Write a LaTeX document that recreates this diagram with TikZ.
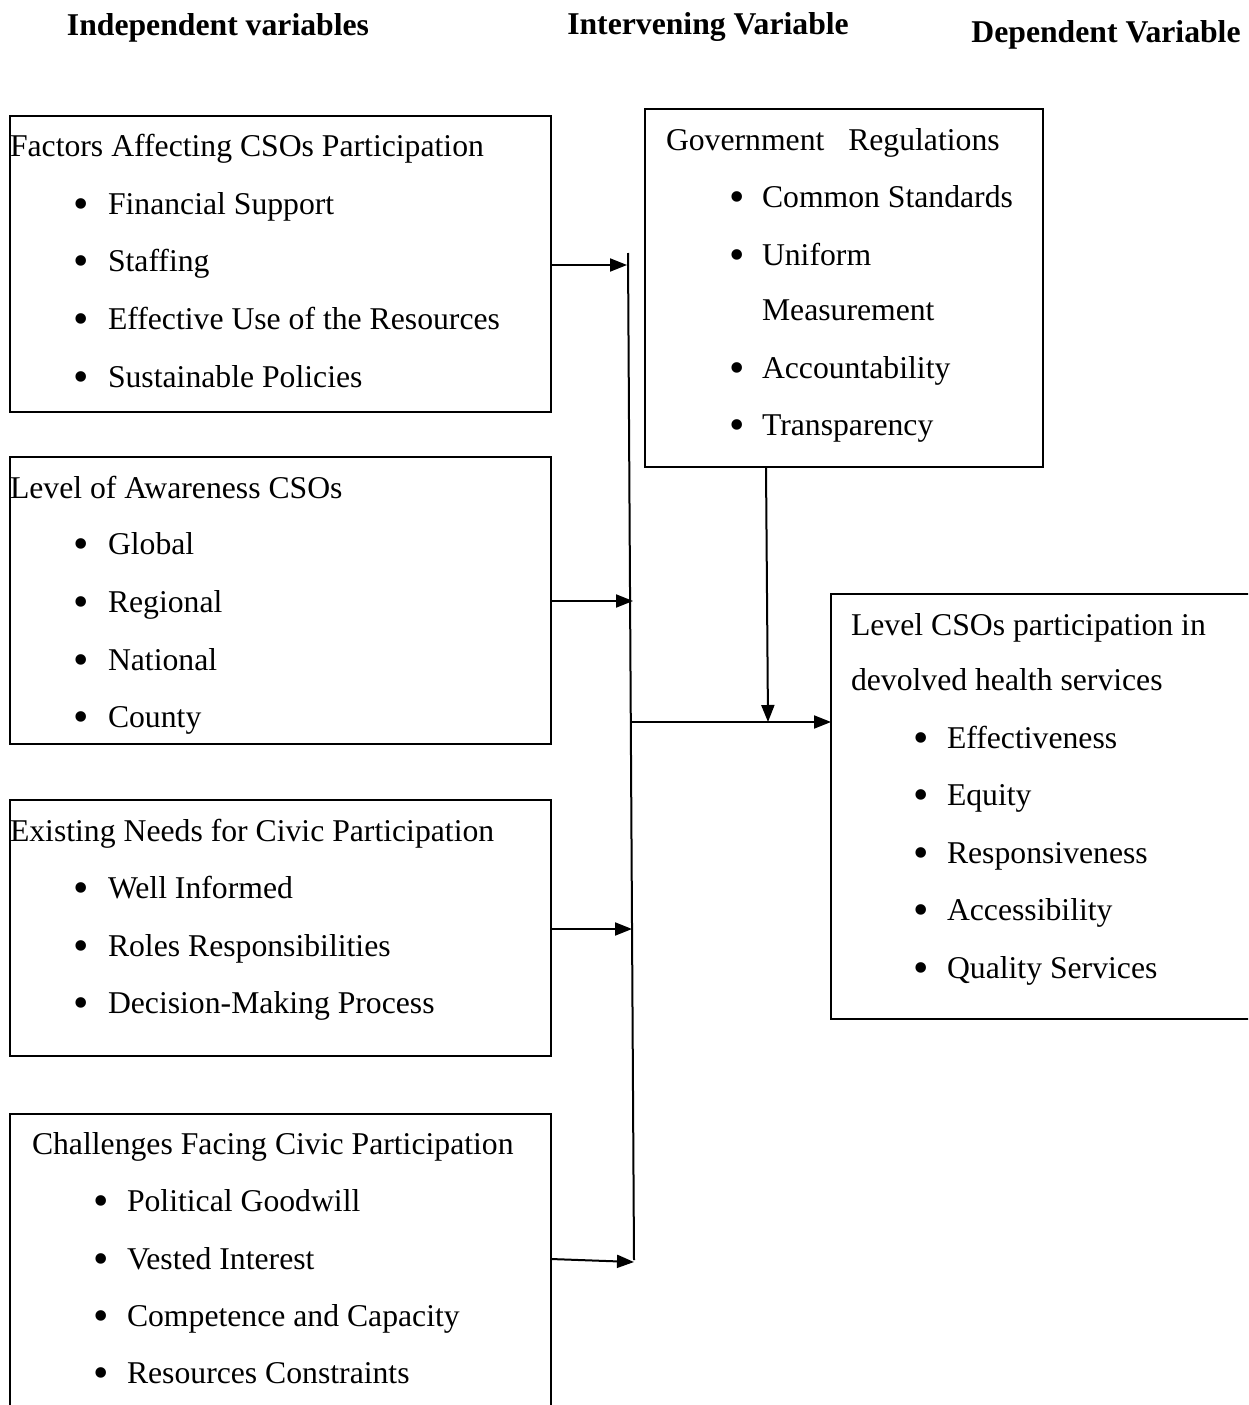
\documentclass[tikz,border=0pt]{standalone}
\usepackage{fontspec}
\setmainfont{Liberation Serif}
\usetikzlibrary{arrows.meta}
\begin{document}
\begin{tikzpicture}[x=1pt,y=-1pt,
  every node/.style={inner sep=0pt,outer sep=0pt},
  box/.style={draw,line width=2pt,rectangle,anchor=north west},
  txt/.style={anchor=base west,font=\fontsize{31.7}{38}\selectfont},
  bul/.style={anchor=base,font=\fontsize{44}{50}\selectfont,yshift=-4pt},
  head/.style={anchor=base,font=\fontsize{31.7}{38}\selectfont\bfseries},
  conn/.style={line width=2pt},
  arr/.style={line width=2pt,-{Triangle[length=17pt,width=13pt]}}]
\clip (0,0) rectangle (1248,1405);
\useasboundingbox (0,0) rectangle (1248,1405);
\fill[white] (0,0) rectangle (1248,1405);

% headers
\node[head] (h1) at (218,36) {Independent variables};
\node[head] (h2) at (708,35) {Intervening Variable};
\node[head] (h3) at (1106,43) {Dependent Variable};

% box 1
\node[box,minimum width=541pt,minimum height=296pt] (b1) at (10,116) {};
\node[txt] (b1t) at (10,156) {Factors Affecting CSOs Participation};
\foreach \y/\t [count=\i] in {214/Financial Support,271/Staffing,329/Effective Use of the Resources,387/Sustainable Policies}{
  \node[bul] (b1b\i) at (81,\y) {•};
  \node[txt] (b1i\i) at (108,\y) {\t};
}

% box 2
\node[box,minimum width=541pt,minimum height=287pt] (b2) at (10,457) {};
\node[txt] (b2t) at (10,498) {Level of Awareness CSOs};
\foreach \y/\t [count=\i] in {554/Global,612/Regional,670/National,727/County}{
  \node[bul] (b2b\i) at (81,\y) {•};
  \node[txt] (b2i\i) at (108,\y) {\t};
}

% box 3
\node[box,minimum width=541pt,minimum height=256pt] (b3) at (10,800) {};
\node[txt] (b3t) at (10,841) {Existing Needs for Civic Participation};
\foreach \y/\t [count=\i] in {898/Well Informed,956/Roles Responsibilities,1013/Decision-Making Process}{
  \node[bul] (b3b\i) at (81,\y) {•};
  \node[txt] (b3i\i) at (108,\y) {\t};
}

% box 4 (cut at bottom)
\node[box,minimum width=541pt,minimum height=320pt] (b4) at (10,1114) {};
\node[txt] (b4t) at (32,1154) {Challenges Facing Civic Participation};
\foreach \y/\t [count=\i] in {1211/Political Goodwill,1269/Vested Interest,1326/Competence and Capacity,1383/Resources Constraints}{
  \node[bul] (b4b\i) at (101,\y) {•};
  \node[txt] (b4i\i) at (127,\y) {\t};
}

% government box
\node[box,minimum width=398pt,minimum height=358pt] (g) at (645,109) {};
\node[txt] (gt) at (666,150) {Government\hspace{0.75em}Regulations};
\node[bul] (gb1) at (737,207) {•};
\node[txt] (gi1) at (762,207) {Common Standards};
\node[bul] (gb2) at (737,265) {•};
\node[txt] (gi2) at (762,265) {Uniform};
\node[txt] (gi2b) at (762,320) {Measurement};
\node[bul] (gb3) at (737,378) {•};
\node[txt] (gi3) at (762,378) {Accountability};
\node[bul] (gb4) at (737,435) {•};
\node[txt] (gi4) at (762,435) {Transparency};

% dependent box (cut at right)
\node[box,minimum width=440pt,minimum height=425pt] (d) at (831,594) {};
\node[txt] (dt1) at (851,635) {Level CSOs participation in};
\node[txt] (dt2) at (851,690) {devolved health services};
\foreach \y/\t [count=\i] in {748/Effectiveness,805/Equity,863/Responsiveness,920/Accessibility,978/Quality Services}{
  \node[bul] (db\i) at (921,\y) {•};
  \node[txt] (di\i) at (947,\y) {\t};
}

% connector bar
\coordinate (bt) at (628,253);
\coordinate (bb) at (634,1260);
\draw[conn] (bt) -- (bb);

\coordinate (a1) at (627,265);
\coordinate (a2) at (633,601);
\coordinate (a3) at (632,929);
\coordinate (a4) at (634,1262);
\draw[arr] (b1.east |- a1) -- (a1);
\draw[arr] (b2.east |- a2) -- (a2);
\draw[arr] (b3.east |- a3) -- (a3);
\draw[arr] (551,1259) -- (a4);

\coordinate (hj) at (631,722);
\coordinate (gj) at (768,722);
\draw[conn] (hj) -- (gj);
\draw[arr] (gj) -- (d.west |- gj);
\draw[arr] (g.south -| 766,0) -- (gj);
\end{tikzpicture}
\end{document}
